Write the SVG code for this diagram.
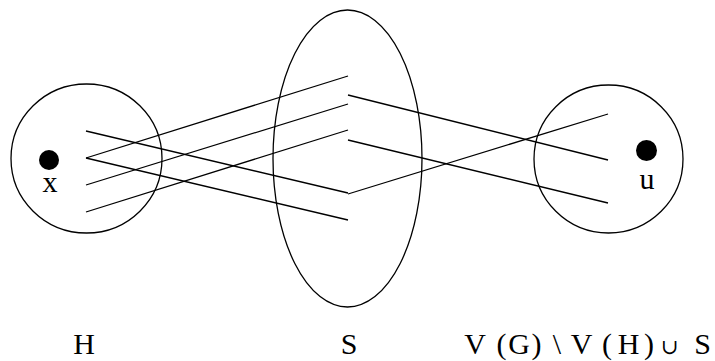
<svg xmlns="http://www.w3.org/2000/svg" width="715" height="361" viewBox="0 0 715 361">
<style>
.set{fill:none;stroke:#000;stroke-width:1.3}
.dot{fill:#000;stroke:none}
.lbl{font-family:"Liberation Serif","DejaVu Serif",serif;font-size:30px;fill:#000;text-anchor:middle}
.cup{font-size:21px}
#edges line{stroke:#000;stroke-width:1.3}
</style>
<rect width="715" height="361" fill="#fff"/>
<g id="H">
<ellipse class="set" cx="86.5" cy="158.5" rx="75.5" ry="74.5"/>
<circle class="dot" cx="49" cy="160" r="10"/>
<text class="lbl" x="50" y="192">x</text>
<text class="lbl" x="84" y="354">H</text>
</g>
<g id="S">
<ellipse class="set" cx="347.5" cy="158.5" rx="74.5" ry="148.5"/>
<text class="lbl" x="349" y="354">S</text>
</g>
<g id="R">
<ellipse class="set" cx="608.5" cy="159" rx="74.5" ry="74"/>
<circle class="dot" cx="646.5" cy="150.5" r="10.5"/>
<text class="lbl" x="647" y="189">u</text>
<text class="lbl" x="475 501.5 519 536.5 557 581.5 607 628.5 649 669.5 702.5" y="354">V(G)\V(H)<tspan class="cup">∪</tspan>S</text>
</g>
<g id="edges">
<line x1="86" y1="158" x2="348" y2="76"/>
<line x1="86" y1="185" x2="348" y2="104"/>
<line x1="86" y1="212" x2="348" y2="130"/>
<line x1="86" y1="131" x2="348" y2="193"/>
<line x1="86" y1="158" x2="348" y2="220"/>
<line x1="348" y1="95" x2="608" y2="160"/>
<line x1="348" y1="140" x2="608" y2="203"/>
<line x1="348" y1="194" x2="608" y2="114"/>
</g>
</svg>
